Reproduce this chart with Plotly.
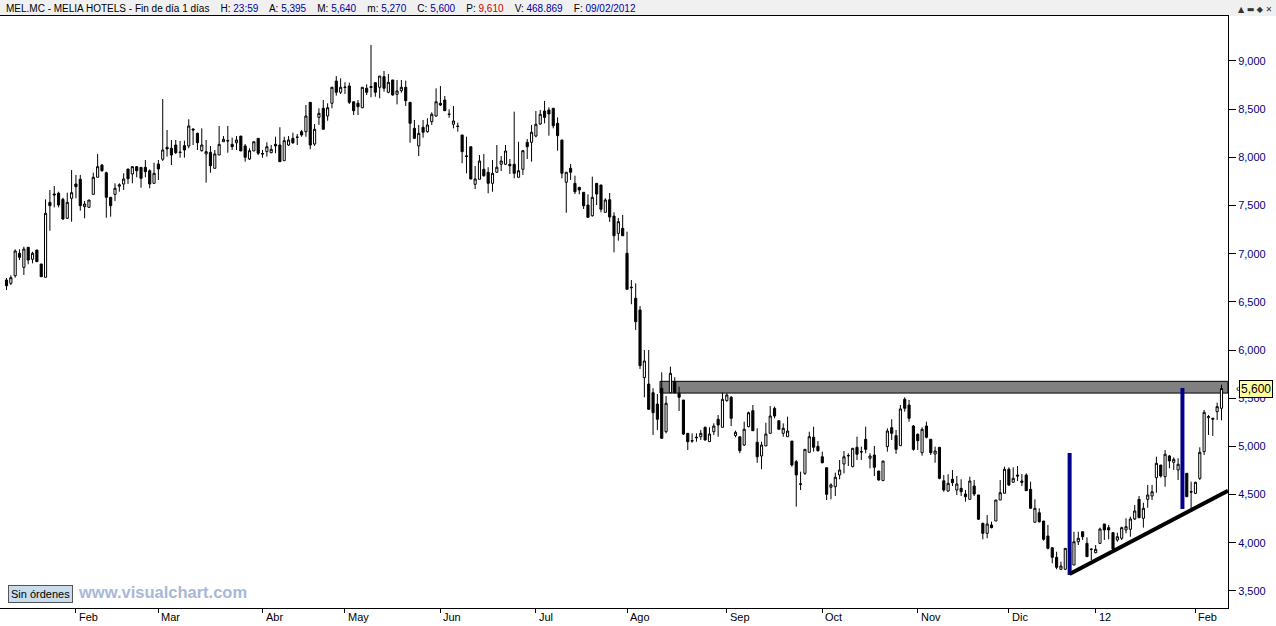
import plotly.graph_objects as go

# ---------------- data ----------------
open_ = [6727,6692,6771,7004,6858,7066,6942,7038,6893,6755,7533,7620,7627,7564,7367,7575,7723,7772,7488,7481,
         7616,7793,7920,7840,7585,7616,7700,7723,7879,7827,7903,7896,7896,7861,7730,7931,7980,8104,8094,8128,
         8055,8121,8118,8294,8249,8069,8035,8052,7886,8024,8162,8175,8135,8152,8221,8118,7983,8066,8197,8040,
         8059,8048,8135,8128,7965,8128,8197,8210,8266,8266,8571,8138,8415,8509,8429,8561,8792,8675,8730,8740,
         8577,8561,8515,8717,8735,8775,8727,8837,8675,8803,8654,8692,8727,8571,8301,8118,8312,8266,8370,8429,
         8561,8595,8450,8343,8325,8232,8015,8110,7720,7772,7876,7845,7730,7845,7928,7928,7928,7928,7793,7876,
         8156,8156,8221,8346,8481,8491,8509,8353,8180,7741,7886,7730,7689,7637,7505,7394,7730,7713,7429,7560,
         7390,7211,7263,7004,6652,6537,6415,5713,5647,5557,5439,5602,5152,5557,5671,5550,5481,5135,5060,5095,
         5100,5198,5049,5152,5281,5198,5474,5509,5111,5100,5014,5204,5370,5042,4900,5004,5135,5394,5266,5135,
         5100,5055,4841,4611,4720,4938,5094,5000,4892,4778,4575,4581,4703,4817,4905,4789,4990,4945,5073,4876,
         4910,4744,4644,4997,5194,5111,5007,5488,5429,5211,5125,4934,5211,5073,4920,4990,4643,4536,4658,4547,
         4564,4505,4450,4588,4495,4201,4097,4184,4225,4443,4513,4762,4627,4702,4640,4702,4554,4212,4311,4225,
         4069,3948,3848,3724,3724,3760,3768,4010,4114,3993,3933,3896,3993,4194,4156,4104,4028,4046,4132,4139,
         4246,4450,4253,4450,4485,4675,4806,4685,4900,4834,4755,4780,4720,4530,4512,4668,4945,5298,5280,5360,
         5395]
high = [6747,6775,7045,7045,7072,7066,7020,7038,6893,7564,7661,7702,7643,7581,7633,7868,7817,7817,7547,7557,
        7841,8035,7931,7851,7585,7730,7730,7834,7879,7910,7910,7896,7972,7875,7944,7972,8605,8284,8180,8180,
        8170,8173,8395,8301,8256,8301,8180,8118,8076,8325,8221,8325,8204,8221,8221,8138,8094,8162,8197,8076,
        8156,8128,8214,8312,8214,8221,8256,8242,8284,8543,8571,8346,8509,8595,8561,8733,8844,8820,8779,8775,
        8577,8595,8727,8758,9166,8775,8844,8896,8865,8803,8803,8803,8796,8571,8388,8336,8388,8405,8467,8716,
        8740,8637,8498,8533,8360,8232,8214,8110,7910,8024,8035,7897,7972,8128,8014,8128,7983,8474,8162,8076,
        8190,8336,8481,8491,8585,8519,8509,8415,8180,7845,7931,7809,7689,7637,7616,7799,7730,7713,7575,7630,
        7430,7370,7402,7228,6727,6692,6457,6000,6000,5603,5543,5768,5522,5827,5717,5619,5481,5135,5135,5135,
        5170,5204,5198,5239,5325,5557,5550,5522,5163,5100,5256,5360,5429,5187,5048,5245,5419,5412,5266,5239,
        5308,5055,4858,4737,4969,5152,5204,5055,4945,4778,4616,4727,4858,4952,4928,4980,5100,4997,5204,4928,
        5004,4744,4848,5187,5281,5170,5429,5509,5481,5222,5135,5198,5256,5073,4997,4990,4702,4710,4754,4692,
        4658,4547,4685,4651,4495,4208,4287,4218,4443,4651,4789,4782,4782,4796,4713,4720,4633,4450,4357,4225,
        4184,3948,3906,3803,3941,3950,4114,4114,4114,4056,3941,3976,4156,4194,4184,4104,4104,4166,4253,4270,
        4391,4485,4415,4599,4599,4893,4806,4962,4910,4886,4876,4800,4720,4633,4633,4990,5377,5325,5291,5454,
        5640]
low = [6623,6675,6751,6934,6779,6890,6900,6917,6761,6755,7238,7481,7481,7349,7360,7332,7575,7446,7367,7481,
       7616,7793,7851,7373,7384,7547,7643,7661,7723,7730,7793,7685,7793,7679,7730,7765,7962,8007,7920,8035,
       7996,7996,8094,8128,8076,8059,7737,7840,7886,8024,8162,8048,8076,8076,8066,7955,7972,8066,8024,7996,
       8007,8042,8042,7955,7965,8118,8138,8128,8214,8214,8083,8118,8336,8291,8380,8509,8640,8657,8657,8553,
       8439,8439,8509,8647,8623,8629,8613,8681,8665,8640,8550,8671,8533,8152,8190,8014,8204,8256,8336,8422,
       8533,8484,8411,8301,8266,7938,7834,7775,7671,7772,7799,7627,7643,7840,7858,7920,7827,7782,7793,7817,
       7983,7955,8208,8336,8353,8225,8301,8069,7782,7425,7765,7619,7616,7464,7377,7384,7505,7429,7429,7330,
       7014,7135,7186,6630,6475,6208,5803,5509,5384,5118,5170,5083,5135,5557,5550,5367,5118,4962,5038,5048,
       5066,5059,5049,5118,5100,5198,5464,5211,5094,4928,5004,5198,5162,4830,4762,5004,5135,5291,5177,5100,
       5100,4789,4374,4547,4703,4938,4945,4945,4824,4443,4450,4485,4658,4720,4796,4782,4858,4858,4928,4772,
       4692,4644,4644,4945,5066,4921,5007,5360,5256,4955,4962,4903,5083,4910,4830,4658,4529,4529,4588,4495,
       4485,4426,4450,4485,4235,4035,4046,4149,4225,4443,4513,4588,4627,4640,4588,4540,4357,4208,4208,4021,
       3931,3786,3724,3716,3716,3680,3768,3976,4028,3855,3820,3890,3986,4028,4035,3924,4010,4028,4097,4062,
       4235,4253,4156,4363,4443,4519,4675,4581,4772,4755,4651,4620,4477,4357,4505,4651,4910,5118,5108,5274,
       5270]
close = [6667,6751,7028,6962,7048,6934,7004,6917,6761,7419,7498,7610,7505,7360,7533,7633,7695,7498,7515,7557,
         7793,7903,7861,7585,7498,7679,7715,7775,7778,7903,7861,7782,7851,7723,7834,7879,8076,8087,8024,8048,
         8050,8076,8325,8284,8152,8128,8059,7913,8035,8135,8187,8170,8110,8180,8066,8000,8069,8162,8042,8035,
         8110,8083,8118,7955,8173,8180,8152,8208,8232,8429,8128,8291,8457,8291,8515,8727,8675,8727,8725,8571,
         8484,8526,8727,8675,8725,8675,8844,8717,8779,8647,8689,8727,8588,8353,8197,8249,8260,8336,8447,8577,
         8543,8484,8445,8377,8320,8059,8010,7775,7775,7962,7809,7730,7834,7897,7962,8066,7913,7834,7861,8069,
         8110,8260,8343,8447,8415,8450,8328,8225,7834,7845,7845,7643,7661,7498,7377,7585,7619,7461,7557,7380,
         7186,7332,7186,6630,6647,6294,5837,5886,5384,5349,5281,5083,5447,5758,5557,5509,5128,5048,5055,5090,
         5135,5066,5128,5211,5222,5488,5533,5291,5146,4955,5177,5349,5162,4892,5014,5128,5315,5315,5177,5187,
         5159,4806,4703,4606,4969,5100,4990,4955,4830,4502,4600,4679,4754,4892,4902,4980,4918,4942,4969,4900,
         4782,4651,4848,5159,5135,4969,5388,5395,5291,4969,5059,5177,5094,4934,4952,4668,4547,4616,4623,4609,
         4529,4477,4640,4505,4243,4097,4194,4156,4443,4519,4762,4599,4668,4692,4627,4540,4357,4357,4218,4035,
         3941,3848,3744,3758,3941,3900,4010,4046,4062,3855,3931,3931,4142,4132,4132,3935,4062,4156,4166,4246,
         4329,4260,4357,4495,4529,4824,4692,4918,4848,4865,4814,4720,4477,4525,4627,4938,5353,5308,5291,5412,
         5600]

# month starts (bar number) and their labels
month_bar = [16, 35, 59, 78, 100, 122, 143, 166, 188, 210, 231, 251, 274]
month_label = ["Feb", "Mar", "Abr", "May", "Jun", "Jul", "Ago", "Sep", "Oct", "Nov", "Dic", "12", "Feb"]

# drawn objects
zone_bar_start = 151
zone_low, zone_high = 5553, 5675
signal_bar = [245, 271]
signal_low = [3665, 4350]
signal_high = [4931, 5606]
trend_bar = [245, 281.5]
trend_price = [3675, 4540]
last_price = 5600

title_parts = [("MEL.MC - MELIA HOTELS - Fin de día 1 días", None),
               ("H:", "23:59"), ("A:", "5,395"), ("M:", "5,640"), ("m:", "5,270"),
               ("C:", "5,600"), ("P:", "9,610"), ("V:", "468.869"), ("F:", "09/02/2012")]

# ---------------- figure ----------------
bars = list(range(len(close)))
FONT = "Liberation Sans, Arial, sans-serif"
W, H = 1276, 626
ML, MR, MT, MB = 0, 48, 16, 18
PW = W - ML - MR
PH = H - MT - MB

fig = go.Figure()
fig.add_trace(go.Candlestick(
    x=bars, open=open_, high=high, low=low, close=close,
    increasing=dict(line=dict(color="black", width=1), fillcolor="white"),
    decreasing=dict(line=dict(color="black", width=1), fillcolor="black"),
    whiskerwidth=0, hoverinfo="skip", showlegend=False,
))

shapes = []
# resistance zone
shapes.append(dict(type="rect", xref="x", yref="y", x0=zone_bar_start - 0.4, x1=281.5,
                   y0=zone_low, y1=zone_high, fillcolor="#808080",
                   line=dict(color="black", width=1), layer="below"))
# blue signal bars
for b, lo, hi in zip(signal_bar, signal_low, signal_high):
    shapes.append(dict(type="line", xref="x", yref="y", x0=b, x1=b, y0=lo, y1=hi,
                       line=dict(color="#00008B", width=4)))
# trend line
shapes.append(dict(type="line", xref="x", yref="y", x0=trend_bar[0], x1=trend_bar[1],
                   y0=trend_price[0], y1=trend_price[1], line=dict(color="black", width=4)))
# title bar background
shapes.append(dict(type="rect", xref="paper", yref="paper", x0=0, x1=W / PW,
                   y0=1, y1=1 + MT / PH, fillcolor="#f0f0f0",
                   line=dict(width=0), layer="below"))

annotations = []
# title text
GAP = "&nbsp;&nbsp;&nbsp; "
txt = []
for lab, val in title_parts:
    if val is None:
        txt.append(lab)
    else:
        col = "#cc0000" if lab == "P:" else "#0000aa"
        txt.append(f"{lab} <span style='color:{col}'>{val}</span>")
annotations.append(dict(xref="paper", yref="paper", x=0, y=1, xanchor="left", yanchor="bottom",
                        xshift=4, yshift=0, showarrow=False, text=GAP.join(txt),
                        font=dict(family=FONT, size=10, color="black")))
# month labels
for b, lab in zip(month_bar, month_label):
    annotations.append(dict(xref="x", yref="paper", x=b, y=0, xanchor="left", yanchor="top",
                            xshift=1, yshift=-1, showarrow=False, text=lab,
                            font=dict(family=FONT, size=11, color="black")))
# last price marker
annotations.append(dict(xref="paper", yref="y", x=1 + 11 / PW, y=last_price, xanchor="left",
                        yanchor="middle", showarrow=False, text=f"{last_price:,}",
                        bgcolor="#ffffa0", bordercolor="black", borderwidth=1, borderpad=1,
                        font=dict(family=FONT, size=12, color="black")))
annotations.append(dict(xref="paper", yref="y", x=1 + 6 / PW, y=last_price, xanchor="left",
                        yanchor="middle", showarrow=False, text="‹",
                        font=dict(family=FONT, size=10, color="black")))
# bottom-left badges
annotations.append(dict(xref="paper", yref="paper", x=8 / PW, y=(H - MB - 594) / PH,
                        xanchor="left", yanchor="middle", showarrow=False, text="Sin órdenes",
                        bgcolor="#c8dcec", bordercolor="#555555", borderwidth=1, borderpad=2,
                        font=dict(family=FONT, size=11, color="black")))
annotations.append(dict(xref="paper", yref="paper", x=76 / PW, y=(H - MB - 592) / PH,
                        xanchor="left", yanchor="middle", showarrow=False, text="<b>www.visualchart.com</b>",
                        font=dict(family=FONT, size=16.5, color="#a8b8d8")))
# top-right window icons
annotations.append(dict(xref="paper", yref="paper", x=1 + 46 / PW, y=1, xanchor="right",
                        yanchor="bottom", showarrow=False, text="▲ ▬ ◆ ✕",
                        font=dict(family="DejaVu Sans", size=8, color="#333333")))

fig.update_layout(
    width=W, height=H, margin=dict(l=ML, r=MR, t=MT, b=MB, autoexpand=False),
    paper_bgcolor="white", plot_bgcolor="white",
    shapes=shapes, annotations=annotations,
    font=dict(family=FONT, size=11),
    xaxis=dict(range=[-1.5, 281.5], rangeslider=dict(visible=False), showgrid=False,
               zeroline=False, tickvals=month_bar, ticktext=[""] * len(month_bar),
               ticks="outside", ticklen=4, tickcolor="black", showline=True,
               linecolor="black", linewidth=1, mirror=True, fixedrange=True),
    yaxis=dict(side="right", range=[3322, 9467], dtick=500, tick0=0, tickformat=",",
               showgrid=False, zeroline=False, ticks="outside", ticklen=7, tickcolor="black",
               showline=True, linecolor="black", linewidth=1,
               tickfont=dict(family=FONT, size=11, color="#000080"), fixedrange=True),
    hovermode=False,
)

fig.write_html("out.html", config={"displayModeBar": False},
               post_script="document.body.style.margin='0';document.body.style.padding='0';"
                           "document.body.style.overflow='hidden';")
